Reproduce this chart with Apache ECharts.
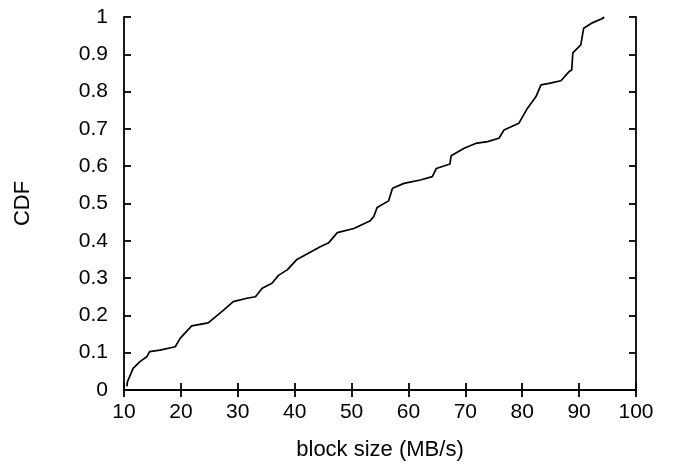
<!DOCTYPE html>
<html><head><meta charset="utf-8">
<script src="https://cdn.jsdelivr.net/npm/echarts@6/dist/echarts.min.js"></script>
<style>html,body{margin:0;padding:0;background:#fff}#c{width:673px;height:468px}</style>
</head><body><div id="c"></div>
<script>
var xTicks = [10,20,30,40,50,60,70,80,90,100];
var yTicks = [0,0.1,0.2,0.3,0.4,0.5,0.6,0.7,0.8,0.9,1];
var blockSize = [10.5,10.6,11.6,12.8,14.0,14.5,16.3,19.0,19.9,21.9,24.8,27.5,29.2,31.6,33.1,34.3,36.0,37.2,38.7,40.4,44.5,46.0,47.5,50.4,53.3,53.9,54.5,56.5,57.2,59.2,62.1,64.2,64.9,67.3,67.5,69.8,71.8,73.9,75.9,76.8,79.4,80.9,82.4,83.3,84.7,86.8,88.2,88.7,88.9,90.3,90.8,92.4,94.1,94.4];
var cdf =       [0.01,0.022,0.058,0.076,0.089,0.103,0.107,0.116,0.139,0.172,0.180,0.214,0.237,0.246,0.250,0.273,0.286,0.308,0.322,0.350,0.384,0.395,0.422,0.433,0.454,0.465,0.489,0.507,0.541,0.554,0.563,0.572,0.594,0.606,0.628,0.648,0.661,0.666,0.675,0.697,0.715,0.755,0.786,0.818,0.822,0.829,0.853,0.858,0.904,0.925,0.970,0.985,0.996,1.0];
var pts = blockSize.map(function(x,i){return [x,cdf[i]];});
var font = 'Liberation Sans';
var axisLine = {show:true, lineStyle:{color:'#000', width:1.8}};
var tick = {show:true, inside:true, length:7, lineStyle:{color:'#000', width:1.8}};
var chart = echarts.init(document.getElementById('c'), null, {renderer:'canvas'});
chart.setOption({
  animation:false,
  backgroundColor:'#fff',
  grid:{left:124, right:37, top:17, bottom:78, containLabel:false},
  xAxis:[{
    type:'value', min:10, max:100, interval:10, position:'bottom',
    name:'block size (MB/s)', nameLocation:'middle', nameGap:49,
    nameTextStyle:{fontFamily:font, fontSize:22, color:'#000'},
    axisLine:axisLine, axisTick:tick, splitLine:{show:false},
    axisLabel:{fontFamily:font, fontSize:21, color:'#000', margin:12}
  },{
    type:'value', min:10, max:100, interval:10, position:'top',
    axisLine:axisLine, axisTick:tick, splitLine:{show:false}, axisLabel:{show:false}
  }],
  yAxis:[{
    type:'value', min:0, max:1, interval:0.1, position:'left',
    name:'CDF', nameLocation:'middle', nameGap:90, nameRotate:90,
    nameTextStyle:{fontFamily:font, fontSize:22, color:'#000'},
    axisLine:axisLine, axisTick:tick, splitLine:{show:false},
    axisLabel:{fontFamily:font, fontSize:21, color:'#000', margin:16,
      formatter:function(v){return v===0?'0':(v===1?'1':v.toFixed(1));}}
  },{
    type:'value', min:0, max:1, interval:0.1, position:'right',
    axisLine:axisLine, axisTick:tick, splitLine:{show:false}, axisLabel:{show:false}
  }],
  series:[{
    type:'line', data:pts, xAxisIndex:0, yAxisIndex:0,
    showSymbol:false, symbol:'none', smooth:false,
    lineStyle:{color:'#000', width:1.7}
  }]
});
</script></body></html>
